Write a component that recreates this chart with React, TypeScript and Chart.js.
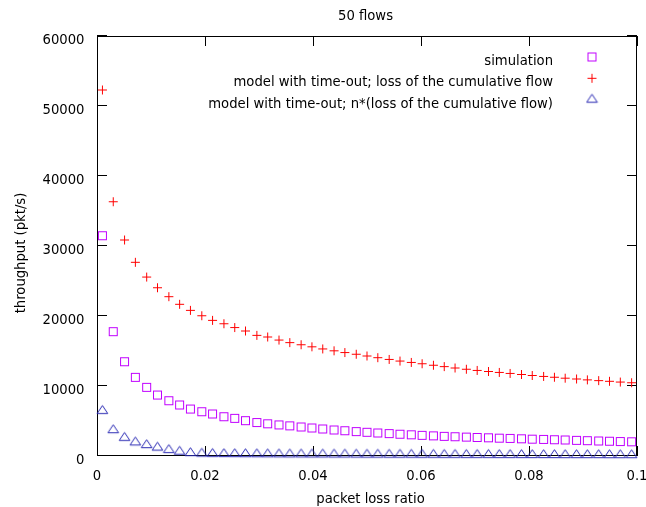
import { useEffect, useRef } from "react";
import { Chart, registerables } from "chart.js";

Chart.register(...registerables);

// packet loss ratio (x positions of the samples)
const lossRatio = [
  0.001, 0.003, 0.0051, 0.0071, 0.0092, 0.0112, 0.0133, 0.0153, 0.0173, 0.0194,
  0.0214, 0.0235, 0.0255, 0.0275, 0.0296, 0.0316, 0.0337, 0.0357, 0.0378, 0.0398,
  0.0418, 0.0439, 0.0459, 0.048, 0.05, 0.052, 0.0541, 0.0561, 0.0582, 0.0602,
  0.0623, 0.0643, 0.0663, 0.0684, 0.0704, 0.0725, 0.0745, 0.0765, 0.0786, 0.0806,
  0.0827, 0.0847, 0.0867, 0.0888, 0.0908, 0.0929, 0.0949, 0.0969, 0.099,
];

// simulation (squares)
const simulation = [
  31470, 17760, 13470, 11240, 9810, 8710, 7900, 7290, 6710, 6330,
  6000, 5610, 5380, 5050, 4780, 4600, 4440, 4310, 4150, 4000,
  3860, 3720, 3610, 3490, 3390, 3290, 3200, 3110, 3030, 2950,
  2880, 2810, 2750, 2700, 2650, 2600, 2550, 2510, 2460, 2410,
  2370, 2330, 2290, 2240, 2190, 2150, 2110, 2070, 2030,
];

// model with time-out; loss of the cumulative flow (pluses)
const modelCumulative = [
  52290, 36330, 30860, 27670, 25570, 24040, 22760, 21670, 20810, 20040,
  19380, 18900, 18350, 17860, 17240, 17000, 16570, 16200, 15900, 15600,
  15300, 15030, 14780, 14540, 14290, 14050, 13800, 13570, 13370, 13180,
  12970, 12770, 12580, 12400, 12230, 12080, 11940, 11800, 11650, 11500,
  11370, 11250, 11120, 11000, 10880, 10770, 10670, 10570, 10470,
];

// model with time-out; n*(loss of the cumulative flow) (triangles)
const modelPerFlow = [
  6450, 3700, 2600, 1950, 1570, 1210, 870, 620, 420, 340,
  310, 290, 280, 270, 260, 250, 245, 240, 235, 230,
  225, 220, 215, 210, 205, 200, 196, 192, 188, 184,
  180, 176, 172, 168, 165, 162, 159, 156, 153, 150,
  147, 144, 141, 138, 136, 134, 132, 130, 128,
];

const seriesLabels = [
  "simulation",
  "model with time-out; loss of the cumulative flow",
  "model with time-out; n*(loss of the cumulative flow)",
];
const seriesColors = ["#c000ff", "#ff0000", "#2a2ab4"];

const chartTitle = "50 flows";
const xTitle = "packet loss ratio";
const yTitle = "throughput (pkt/s)";

const FONT = '13.2px "DejaVu Sans", sans-serif';

function makeSquare(color: string) {
  const c = document.createElement("canvas");
  c.width = 11;
  c.height = 11;
  const g = c.getContext("2d")!;
  g.strokeStyle = color;
  g.lineWidth = 1;
  g.strokeRect(1.5, 1.5, 8, 8);
  return c;
}

function makePlus(color: string) {
  const c = document.createElement("canvas");
  c.width = 11;
  c.height = 11;
  const g = c.getContext("2d")!;
  g.strokeStyle = color;
  g.lineWidth = 1;
  g.beginPath();
  g.moveTo(1, 5.5);
  g.lineTo(10, 5.5);
  g.moveTo(5.5, 1);
  g.lineTo(5.5, 10);
  g.stroke();
  return c;
}

function makeTriangle(color: string) {
  const c = document.createElement("canvas");
  c.width = 13;
  c.height = 14;
  const g = c.getContext("2d")!;
  g.strokeStyle = color;
  g.lineWidth = 1;
  g.beginPath();
  g.moveTo(6.5, 1.67);
  g.lineTo(1.17, 9.67);
  g.lineTo(11.83, 9.67);
  g.closePath();
  g.stroke();
  return c;
}

export default function App() {
  const ref = useRef<HTMLCanvasElement | null>(null);

  useEffect(() => {
    document.body.style.margin = "0";
    const canvas = ref.current;
    if (!canvas) return;

    const symbols = [
      makeSquare(seriesColors[0]),
      makePlus(seriesColors[1]),
      makeTriangle(seriesColors[2]),
    ];
    const series = [simulation, modelCumulative, modelPerFlow];

    const frame = {
      id: "gnuplotFrame",
      beforeDatasetsDraw(chart: any) {
        const ctx = chart.ctx as CanvasRenderingContext2D;
        const { left, right, top, bottom } = chart.chartArea;
        const xs = chart.scales.x;
        const ys = chart.scales.y;
        const tl = 9;
        ctx.save();
        ctx.strokeStyle = "#000";
        ctx.lineWidth = 1;
        ctx.strokeRect(left + 0.5, top + 0.5, right - left - 1, bottom - top - 1);
        ctx.beginPath();
        for (const t of ys.ticks) {
          const y = Math.round(ys.getPixelForValue(t.value)) - 0.5;
          ctx.moveTo(left, y);
          ctx.lineTo(left + tl + 1, y);
          ctx.moveTo(right, y);
          ctx.lineTo(right - tl - 1, y);
        }
        for (const t of xs.ticks) {
          const x = Math.round(xs.getPixelForValue(t.value)) + 0.5;
          ctx.moveTo(x, bottom);
          ctx.lineTo(x, bottom - tl - 1);
          ctx.moveTo(x, top);
          ctx.lineTo(x, top + tl + 1);
        }
        ctx.stroke();

        // tick labels
        ctx.fillStyle = "#000";
        ctx.font = FONT;
        ctx.textBaseline = "alphabetic";
        ctx.textAlign = "right";
        for (const t of ys.ticks) {
          const y = ys.getPixelForValue(t.value);
          ctx.fillText(String(Math.round(t.value)), 84.5, y + 8.3);
        }
        ctx.textAlign = "center";
        for (const t of xs.ticks) {
          const x = xs.getPixelForValue(t.value);
          const v = Math.round(t.value * 100) / 100;
          ctx.fillText(String(v), x, 480);
        }

        // titles
        ctx.fillText(chartTitle, 365.5, 19.5);
        ctx.fillText(xTitle, 370.5, 503.3);
        ctx.save();
        ctx.translate(24.5, 253);
        ctx.rotate(-Math.PI / 2);
        ctx.fillText(yTitle, 0, 0);
        ctx.restore();

        // key
        const rows = [57, 78.3, 99.6];
        ctx.textAlign = "right";
        for (let i = 0; i < 3; i++) {
          ctx.fillText(seriesLabels[i], 553, rows[i] + 8);
          const s = symbols[i];
          ctx.drawImage(s, 592 - s.width / 2, rows[i] - s.height / 2);
        }
        ctx.restore();
      },
    };

    const chart = new Chart(canvas, {
      type: "scatter",
      data: {
        datasets: series.map((vals, i) => ({
          label: seriesLabels[i],
          data: lossRatio.map((x, j) => ({ x, y: vals[j] })),
          pointStyle: symbols[i] as any,
          pointRadius: 5,
          showLine: false,
          clip: false as any,
          borderColor: seriesColors[i],
          backgroundColor: seriesColors[i],
        })),
      },
      options: {
        animation: false,
        responsive: false,
        devicePixelRatio: 1,
        layout: { padding: { left: 0, right: 9, top: 36, bottom: 0 } },
        plugins: {
          legend: { display: false },
          title: { display: false },
          tooltip: { enabled: false },
        },
        scales: {
          x: {
            type: "linear",
            min: 0,
            max: 0.1,
            ticks: { display: false, stepSize: 0.02 },
            grid: { display: false },
            border: { display: false },
            afterFit: (s: any) => {
              s.height = 51;
            },
          },
          y: {
            type: "linear",
            min: 0,
            max: 60000,
            ticks: { display: false, stepSize: 10000 },
            grid: { display: false },
            border: { display: false },
            afterFit: (s: any) => {
              s.width = 97;
            },
          },
        },
      },
      plugins: [frame],
    });

    return () => chart.destroy();
  }, []);

  return (
    <div style={{ width: 646, height: 507, background: "#fff" }}>
      <canvas ref={ref} width={646} height={507} style={{ display: "block" }} />
    </div>
  );
}
